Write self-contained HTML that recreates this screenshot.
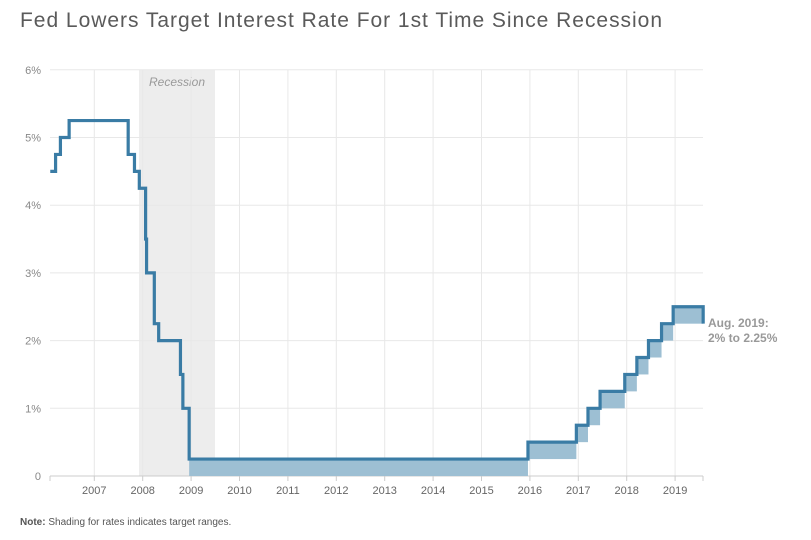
<!DOCTYPE html>
<html><head><meta charset="utf-8"><style>
body{margin:0;background:#fff;width:811px;height:535px;overflow:hidden;font-family:"Liberation Sans",sans-serif}
</style></head><body>
<svg id="s" width="811" height="535" xmlns="http://www.w3.org/2000/svg">
<text x="20" y="27" font-size="21" fill="#5a5a5a" font-family="Liberation Sans, sans-serif" textLength="642" lengthAdjust="spacing">Fed Lowers Target Interest Rate For 1st Time Since Recession</text>
<rect x="139" y="70" width="76" height="406" fill="#ededed"/>
<text x="177" y="86" font-size="12" font-style="italic" fill="#999" text-anchor="middle">Recession</text>
<g id="grid"></g>
<g id="fill"></g>
<path id="ln" fill="none" stroke="#3a7ca5" stroke-width="3.2"/>
<text x="708" y="327" font-size="12" font-weight="bold" fill="#999">Aug. 2019:</text>
<text x="708" y="342" font-size="12" font-weight="bold" fill="#999">2% to 2.25%</text>
<text x="20" y="525" font-size="10" fill="#555"><tspan font-weight="bold">Note:</tspan> Shading for rates indicates target ranges.</text>
</svg>
<script>
const X=y=>94.3+(y-2007)*48.4, Y=r=>476-67.7*r;
let g=document.getElementById('grid'),h='';
for(let r=1;r<=6;r++){h+=`<line x1="50" x2="703" y1="${Y(r)}" y2="${Y(r)}" stroke="#e8e8e8"/>`;
h+=`<text x="41" y="${Y(r)+4}" font-size="11" fill="#888" text-anchor="end">${r}%</text>`;}
h+=`<text x="41" y="480" font-size="11" fill="#888" text-anchor="end">0</text>`;
for(let y=2007;y<=2019;y++){h+=`<line x1="${X(y)}" x2="${X(y)}" y1="70" y2="476" stroke="#e8e8e8"/>`;
h+=`<line x1="${X(y)}" x2="${X(y)}" y1="476" y2="481" stroke="#ccc"/>`;
h+=`<text x="${X(y)}" y="494" font-size="11" fill="#666" text-anchor="middle">${y}</text>`;}
h+=`<line x1="50" x2="703" y1="476" y2="476" stroke="#ccc"/><line x1="50" x2="50" y1="476" y2="481" stroke="#ccc"/><line x1="703" x2="703" y1="476" y2="481" stroke="#ccc"/>`;
g.innerHTML=h;
const pts=[[2006.09,4.5],[2006.2,4.75],[2006.3,5],[2006.48,5.25],[2007.7,4.75],[2007.83,4.5],[2007.93,4.25],[2008.06,3.5],[2008.08,3.0],[2008.24,2.25],[2008.33,2.0],[2008.78,1.5],[2008.83,1.0],[2008.96,0.25],[2015.96,0.5],[2016.96,0.75],[2017.2,1.0],[2017.45,1.25],[2017.96,1.5],[2018.21,1.75],[2018.45,2.0],[2018.72,2.25],[2018.96,2.5]];
const end=2019.58;
let d=`M${X(pts[0][0])},${Y(pts[0][1])}`,f='';
for(let i=0;i<pts.length;i++){const x1=X(pts[i][0]),x2=X(i+1<pts.length?pts[i+1][0]:end),r=pts[i][1];
if(i>0)d+=`V${Y(r)}`;d+=`H${x2}`;
if(pts[i][0]>=2008.9)f+=`<rect x="${x1}" y="${Y(r)}" width="${x2-x1}" height="${67.7*0.25}" fill="#9dbfd3"/>`;}
d+=`V${Y(2.25)}`;
document.getElementById('fill').innerHTML=f;
document.getElementById('ln').setAttribute('d',d);
</script>
</body></html>
